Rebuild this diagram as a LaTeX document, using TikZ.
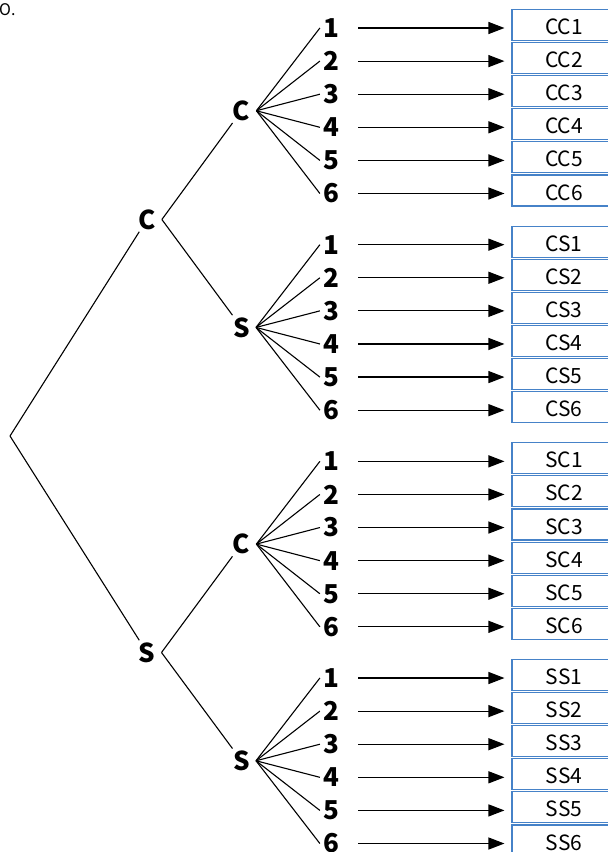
\documentclass[tikz,border=0pt]{standalone}
\usepackage{fontspec}
\setmainfont{Noto Sans CJK JP}
\usetikzlibrary{arrows.meta}
\definecolor{boxblue}{RGB}{70,130,200}

\begin{document}
\begin{tikzpicture}[x=1pt, y=-1pt,
    lvl/.style={font=\fontsize{26}{26}\selectfont\bfseries, inner xsep=6pt, inner ysep=2pt},
    leaf/.style={font=\fontsize{26}{26}\selectfont\bfseries, inner xsep=3pt, inner ysep=2pt},
    outbox/.style={draw=boxblue, line width=1.1pt, minimum width=104pt, minimum height=31pt,
        inner sep=0pt, text height=19pt, text depth=0pt, font=\fontsize{21}{21}\selectfont},
    branch/.style={line width=1.1pt},
    arr/.style={-{Triangle[length=16pt, width=12pt]}, line width=1.2pt,
        shorten <=16pt, shorten >=7pt}]

    % ==========================================
    % FRAME
    % ==========================================
    \useasboundingbox (0,0) rectangle (608,852);
    \clip (0,0) rectangle (608,852);

    % Define parameters
    \def\groupgap{216.67}  % Vertical distance between groups
    \def\leafgap{33.1}     % Vertical distance between leaves

    \node[anchor=base west, inner sep=0pt, font=\fontsize{16}{16}\selectfont] (note) at (-1,15.5) {O.};

    % ==========================================
    % FIRST TWO LEVELS
    % ==========================================
    \coordinate (root) at (10,436);
    \node[lvl] (top) at (147,219.5) {C};
    \node[lvl] (bot) at (147,652.5) {S};

    \draw[branch] (root) -- (top);
    \draw[branch] (root) -- (bot);

    % ==========================================
    % SECOND LEVEL, LEAVES AND OUTCOMES
    % ==========================================
    \foreach \first/\second [count=\g] in {C/C, C/S, S/C, S/S} {
        \pgfmathsetmacro{\ybase}{28+\groupgap*(\g-1)}
        \node[lvl] (m\g) at (241.5,\ybase+82.75) {\second};
        \foreach \k in {1,...,6} {
            \pgfmathsetmacro{\yleaf}{\ybase+\leafgap*(\k-1)}
            \node[leaf] (l\g-\k) at (331,\yleaf) {\k};
            \node[outbox] (b\g-\k) at (564,\yleaf-3) {\first\second\k};
            \draw[branch] (m\g.east) -- (l\g-\k.west);
            \draw[arr] (l\g-\k.east) -- (l\g-\k.east -| b\g-\k.west);
        }
    }

    % Connect first level to second level
    \draw[branch] (top.east) -- (m1);
    \draw[branch] (top.east) -- (m2);
    \draw[branch] (bot.east) -- (m3);
    \draw[branch] (bot.east) -- (m4);

\end{tikzpicture}
\end{document}
